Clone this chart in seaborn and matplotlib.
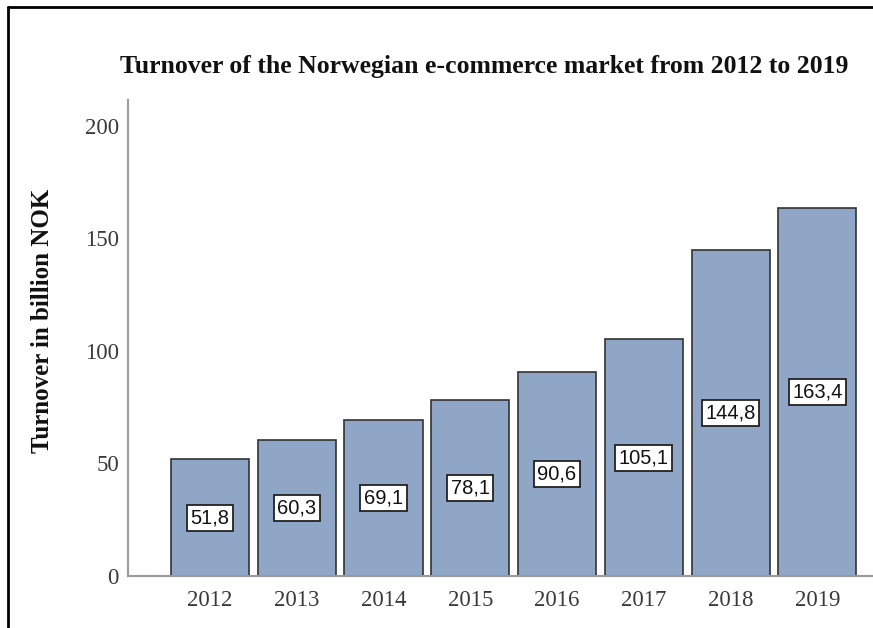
import matplotlib
matplotlib.use("Agg")
import matplotlib.pyplot as plt
from matplotlib.lines import Line2D
import seaborn as sns
import pandas as pd

years = ["2012", "2013", "2014", "2015", "2016", "2017", "2018", "2019"]
turnover = [51.8, 60.3, 69.1, 78.1, 90.6, 105.1, 144.8, 163.4]
y_ticks = [0, 50, 100, 150, 200]

title = "Turnover of the Norwegian e-commerce market from 2012 to 2019"
y_label = "Turnover in billion NOK"

sns.set_theme(style="white")
plt.rcParams["font.family"] = ["Liberation Serif", "DejaVu Serif"]

df = pd.DataFrame({"year": years, "turnover": turnover})

fig = plt.figure(figsize=(8.73, 6.28), dpi=100)
ax = fig.add_axes([128 / 873, 1 - 576 / 628, (872 - 128) / 873, (576 - 100) / 628])

sns.barplot(data=df, x="year", y="turnover", color="#8FA6C6", saturation=1,
            edgecolor="#333333", linewidth=1.2, width=0.9, ax=ax)

for i, v in enumerate(turnover):
    ax.text(i, v / 2, f"{v:.1f}".replace(".", ","), ha="center", va="center",
            fontsize=14.5, family=["Liberation Sans", "DejaVu Sans"], color="#111111",
            bbox=dict(boxstyle="square,pad=0.18", facecolor="white",
                      edgecolor="#222222", linewidth=1.3))

ax.set_ylim(0, 211.5)
ax.set_xlim(-0.944, 7.63)
ax.set_yticks(y_ticks)
ax.set_yticklabels([str(t) for t in y_ticks])
ax.tick_params(axis="both", length=0, labelsize=16.5, colors="#3a3a3a")
ax.tick_params(axis="x", pad=10)
ax.tick_params(axis="y", pad=6.5)
ax.set_xlabel("")
ax.set_ylabel(y_label, fontsize=18, fontweight="bold", color="#111111")
ax.yaxis.set_label_coords(-0.099, 0.535)

for side in ("top", "right"):
    ax.spines[side].set_visible(False)
for side in ("left", "bottom"):
    ax.spines[side].set_color("#9a9a9a")
    ax.spines[side].set_linewidth(1.5)

fig.text(484 / 873, 1 - 66 / 628, title, ha="center", va="center",
         fontsize=18.5, fontweight="bold", color="#111111")

# frame drawn around the chart panel (top and left edges visible)
fig.add_artist(Line2D([8 / 873, 1.0], [1 - 7 / 628, 1 - 7 / 628],
                      transform=fig.transFigure, color="black", linewidth=2))
fig.add_artist(Line2D([8 / 873, 8 / 873], [0.0, 1 - 7 / 628],
                      transform=fig.transFigure, color="black", linewidth=2))

fig.savefig("out.png", dpi=100)
